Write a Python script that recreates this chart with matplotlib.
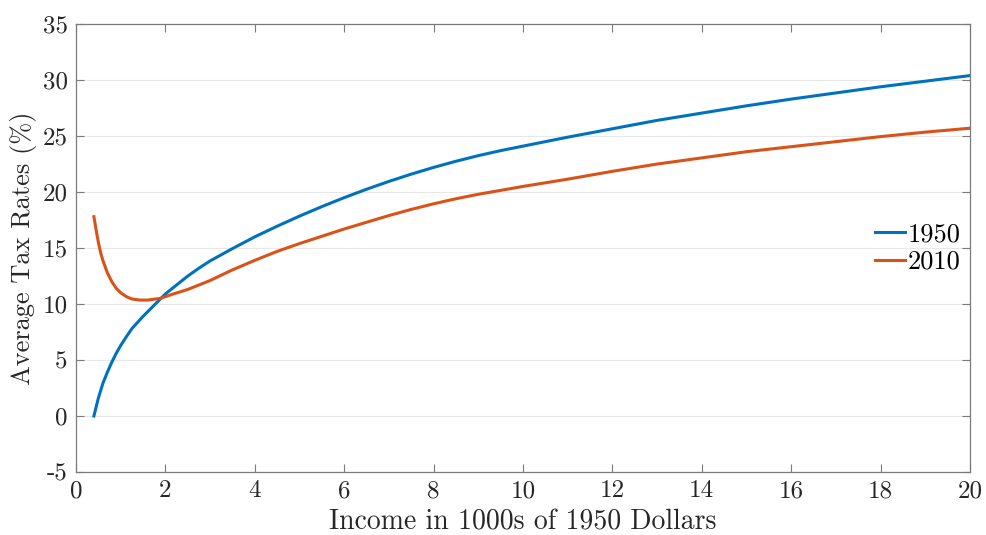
import matplotlib
matplotlib.use("Agg")
import matplotlib.pyplot as plt

# Average tax rate by income (thousands of 1950 dollars)
income_1950 = [0.4, 0.5, 0.6, 0.7, 0.8, 0.9, 1.0, 1.13, 1.25, 1.5, 1.75, 2.0, 2.25, 2.5,
               2.75, 3.0, 3.5, 4.0, 4.5, 5.0, 5.5, 6.0, 6.5, 7.0, 7.5, 8.0, 8.5, 9.0,
               9.5, 10.0, 11.0, 12.0, 13.0, 14.0, 15.0, 16.0, 17.0, 18.0, 19.0, 20.0]
rate_1950 = [0.0, 1.6, 2.9, 3.9, 4.8, 5.6, 6.3, 7.1, 7.8, 8.9, 9.9, 10.9, 11.7, 12.5,
             13.2, 13.85, 14.95, 16.0, 16.95, 17.85, 18.7, 19.5, 20.25, 20.95, 21.6, 22.2, 22.75, 23.25,
             23.7, 24.1, 24.9, 25.65, 26.4, 27.05, 27.7, 28.3, 28.85, 29.4, 29.9, 30.4]

income_2010 = [0.4, 0.45, 0.5, 0.55, 0.6, 0.7, 0.8, 0.9, 1.0, 1.13, 1.25, 1.43, 1.6,
               1.88, 2.18, 2.5, 3.0, 3.5, 4.0, 4.5, 5.0, 5.5, 6.0, 6.5, 7.0, 7.5,
               8.0, 8.5, 9.0, 9.5, 10.0, 11.0, 12.0, 13.0, 14.0, 15.0, 16.0, 17.0,
               18.0, 19.0, 20.0]
rate_2010 = [17.8, 16.6, 15.5, 14.6, 13.9, 12.8, 12.0, 11.4, 11.0, 10.65, 10.45, 10.35, 10.35,
             10.5, 10.9, 11.3, 12.1, 13.05, 13.9, 14.7, 15.4, 16.05, 16.7, 17.3, 17.9, 18.45,
             18.95, 19.4, 19.8, 20.15, 20.5, 21.15, 21.85, 22.5, 23.05, 23.6, 24.05, 24.5,
             24.95, 25.35, 25.7]

series_labels = ["1950", "2010"]
x_ticks = list(range(0, 21, 2))
y_ticks = list(range(-5, 36, 5))

plt.rcParams["font.family"] = ["cmr10", "DejaVu Serif"]
plt.rcParams["mathtext.fontset"] = "cm"
plt.rcParams["axes.unicode_minus"] = False
plt.rcParams["axes.formatter.use_mathtext"] = False

fig = plt.figure(figsize=(9.86, 5.35), dpi=100)
ax = fig.add_axes([0.0771, 0.1178, 0.9067, 0.8372])

ax.plot(income_1950, rate_1950, color="#0072BD", lw=2.2, label=series_labels[0])
ax.plot(income_2010, rate_2010, color="#D95319", lw=2.2, label=series_labels[1])

ax.set_xlim(0, 20)
ax.set_ylim(-5, 35)
ax.set_xticks(x_ticks)
ax.set_yticks(y_ticks)
ax.set_xticklabels([str(t) for t in x_ticks])
ax.set_yticklabels([str(t) for t in y_ticks])

ax.yaxis.grid(True, color="#e8e8e8", lw=0.8)
ax.set_axisbelow(True)

for s in ax.spines.values():
    s.set_color("#7a7a7a")
    s.set_linewidth(0.9)
ax.tick_params(direction="in", length=6, width=0.8, color="#7a7a7a",
               top=True, right=True, labelsize=18, labelcolor="#262626", pad=6)

ax.set_xlabel("Income in 1000s of 1950 Dollars", fontsize=20, color="#262626", labelpad=5)
ax.set_ylabel("Average Tax Rates (%)", fontsize=19, color="#262626", labelpad=4)

ax.legend(loc="center right", bbox_to_anchor=(1.0, 0.5), frameon=False, fontsize=19,
          handlelength=1.12, handletextpad=0.12, labelspacing=0.15,
          borderpad=0.2, borderaxespad=0.15)

fig.savefig("out.png", dpi=100, facecolor="white")
